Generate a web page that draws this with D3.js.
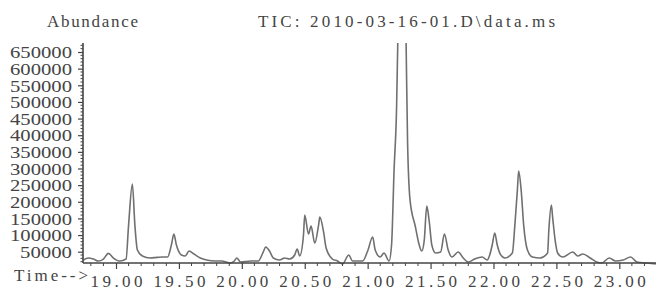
<!DOCTYPE html>
<html>
<head>
<meta charset="utf-8">
<script src="https://cdn.jsdelivr.net/npm/d3@7"></script>
<style>
  body { margin: 0; background: #fff; }
  svg { display: block; }
</style>
</head>
<body>
<div id="chart"></div>
<script>
// TIC chromatogram, values

const titleLeft = "Abundance";
const titleRight = "TIC: 2010-03-16-01.D\\data.ms";
const xLabel = "Time-->";

const xTicks = [19.0, 19.5, 20.0, 20.5, 21.0, 21.5, 22.0, 22.5, 23.0];
const yTicks = [50000, 100000, 150000, 200000, 250000, 300000, 350000,
                400000, 450000, 500000, 550000, 600000, 650000];

// retention time (min), grouped by 10
const times = [
  18.74, 18.78, 18.82, 18.86, 18.90, 18.94, 18.98, 19.03, 19.08, 19.10,
  19.13, 19.15, 19.17, 19.21, 19.27, 19.33, 19.37, 19.41, 19.44, 19.46,
  19.48, 19.52, 19.55, 19.58, 19.62, 19.67, 19.72, 19.79, 19.84, 19.91,
  19.94, 19.96, 19.99, 20.07, 20.13, 20.17, 20.19, 20.22, 20.25, 20.30,
  20.34, 20.38, 20.42, 20.44, 20.46, 20.49, 20.50, 20.53, 20.55, 20.58,
  20.61, 20.62, 20.65, 20.67, 20.72, 20.76, 20.80, 20.85, 20.88, 20.96,
  21.00, 21.04, 21.06, 21.10, 21.13, 21.17, 21.19, 21.21, 21.23, 21.24,
  21.27, 21.305, 21.317, 21.337, 21.38, 21.41, 21.43, 21.45, 21.47, 21.49,
  21.51, 21.54, 21.58, 21.61, 21.64, 21.67, 21.72, 21.76, 21.80, 21.85,
  21.91, 21.95, 21.97, 21.99, 22.01, 22.03, 22.05, 22.09, 22.15, 22.17,
  22.19, 22.20, 22.22, 22.24, 22.27, 22.31, 22.37, 22.43, 22.44, 22.46,
  22.47, 22.49, 22.51, 22.55, 22.63, 22.67, 22.71, 22.77, 22.82, 22.86,
  22.92, 22.97, 23.03, 23.09, 23.14, 23.22, 23.29
];

// abundance, same order as times
const abundance = [
  25000, 31000, 28000, 22000, 28000, 45000, 31000, 22000, 28000, 130000,
  253000, 130000, 55000, 37000, 31000, 33000, 34000, 34000, 70000, 103000,
  70000, 40000, 37000, 52000, 43000, 31000, 25000, 22000, 22000, 16000,
  22000, 31000, 19000, 22000, 22000, 49000, 64000, 52000, 31000, 25000,
  31000, 28000, 40000, 58000, 37000, 100000, 160000, 103000, 127000, 76000,
  130000, 154000, 109000, 61000, 28000, 22000, 13000, 40000, 22000, 22000,
  52000, 94000, 55000, 34000, 46000, 22000, 70000, 295000, 485000, 690000,
  1100000, 690000, 385000, 205000, 124000, 70000, 52000, 85000, 187000, 139000,
  70000, 46000, 49000, 103000, 55000, 34000, 49000, 31000, 19000, 28000,
  34000, 25000, 40000, 70000, 106000, 70000, 46000, 31000, 46000, 130000,
  235000, 292000, 235000, 130000, 55000, 34000, 31000, 46000, 115000, 190000,
  154000, 85000, 46000, 34000, 49000, 37000, 43000, 31000, 19000, 16000,
  31000, 22000, 25000, 34000, 19000, 16000, 13000
];

const width = 656, height = 295;
const plotLeft = 83, plotTop = 43, plotBottom = 263, plotRight = 656;
const inkCol = "#444";
const traceCol = "#707070";

const svg = d3.select("#chart").append("svg")
    .attr("width", width)
    .attr("height", height)
    .attr("viewBox", [0, 0, width, height])
    .style("background", "#fff");

const x = d3.scaleLinear().domain([19, 23]).range([116, 619.3]);
const y = d3.scaleLinear().domain([50000, 650000]).range([251.7, 52]);

svg.append("defs").append("clipPath")
    .attr("id", "plot-clip")
    .append("rect")
    .attr("x", plotLeft)
    .attr("y", plotTop)
    .attr("width", plotRight - plotLeft)
    .attr("height", plotBottom - plotTop + 3);

// titles
svg.append("text")
    .attr("x", 47).attr("y", 27)
    .attr("textLength", 91).attr("lengthAdjust", "spacing")
    .style("font", "17px 'Liberation Serif', serif")
    .style("fill", inkCol)
    .text(titleLeft);

svg.append("text")
    .attr("x", 258).attr("y", 27)
    .attr("textLength", 297).attr("lengthAdjust", "spacing")
    .style("font", "17px 'Liberation Serif', serif")
    .style("fill", inkCol)
    .text(titleRight);

// trace
const line = d3.line()
    .x((d, i) => x(times[i]))
    .y((d, i) => y(abundance[i]))
    .curve(d3.curveMonotoneX);

svg.append("path")
    .datum(abundance)
    .attr("clip-path", "url(#plot-clip)")
    .attr("d", line)
    .attr("fill", "none")
    .attr("stroke", traceCol)
    .attr("stroke-width", 1.6)
    .attr("stroke-linejoin", "round");

// y axis
const yMinor = d3.range(20000, 670001, 10000).filter(v => v % 50000 !== 0);
svg.append("g").selectAll("line")
    .data(yMinor)
    .join("line")
    .attr("x1", plotLeft - 2.5).attr("x2", plotLeft)
    .attr("y1", d => y(d)).attr("y2", d => y(d))
    .attr("stroke", inkCol).attr("stroke-width", 1);

const yAxis = svg.append("g")
    .attr("transform", `translate(${plotLeft},0)`)
    .call(d3.axisLeft(y).tickValues(yTicks).tickSize(5).tickFormat(d => d));
yAxis.select(".domain").remove();
yAxis.selectAll(".tick line").attr("stroke", inkCol).attr("stroke-width", 1.2);
yAxis.selectAll(".tick text")
    .attr("x", -11)
    .attr("dy", "0.36em")
    .attr("textLength", d => d >= 100000 ? 62 : 52)
    .attr("lengthAdjust", "spacingAndGlyphs")
    .style("font", "16px 'Liberation Serif', serif")
    .style("fill", inkCol);

svg.append("line")
    .attr("x1", plotLeft).attr("x2", plotLeft)
    .attr("y1", plotTop).attr("y2", plotBottom)
    .attr("stroke", inkCol).attr("stroke-width", 1.6);

// x axis
const xMinor = d3.range(18.8, 23.3, 0.1).filter(v => Math.abs(v * 2 - Math.round(v * 2)) > 0.01);
svg.append("g").selectAll("line")
    .data(xMinor)
    .join("line")
    .attr("x1", d => x(d)).attr("x2", d => x(d))
    .attr("y1", plotBottom).attr("y2", plotBottom + 3)
    .attr("stroke", inkCol).attr("stroke-width", 1);

const xAxis = svg.append("g")
    .attr("transform", `translate(0,${plotBottom})`)
    .call(d3.axisBottom(x).tickValues(xTicks).tickSize(6).tickFormat(d3.format(".2f")));
xAxis.select(".domain").remove();
xAxis.selectAll(".tick line").attr("stroke", inkCol).attr("stroke-width", 1.2);
xAxis.selectAll(".tick text")
    .attr("y", 24)
    .attr("dy", 0)
    .attr("textLength", 52)
    .attr("lengthAdjust", "spacing")
    .style("font", "17px 'Liberation Serif', serif")
    .style("fill", inkCol);

svg.append("line")
    .attr("x1", plotLeft).attr("x2", plotRight)
    .attr("y1", plotBottom).attr("y2", plotBottom)
    .attr("stroke", inkCol).attr("stroke-width", 1.6);

svg.append("text")
    .attr("x", 14).attr("y", 281)
    .attr("textLength", 74).attr("lengthAdjust", "spacing")
    .style("font", "17px 'Liberation Serif', serif")
    .style("fill", inkCol)
    .text(xLabel);
</script>
</body>
</html>
